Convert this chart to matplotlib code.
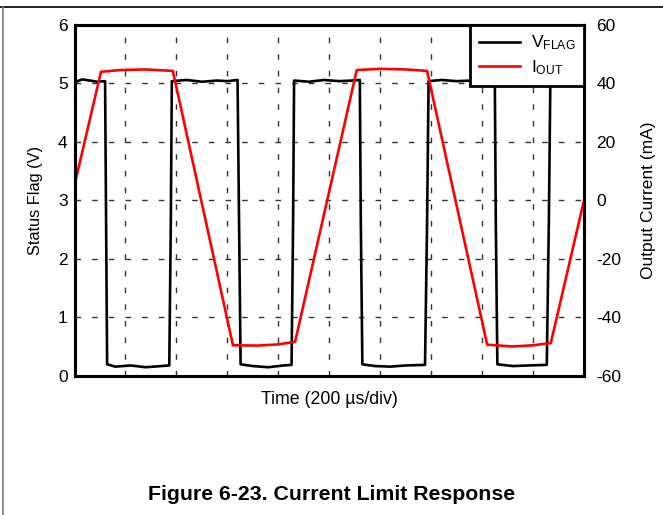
import matplotlib
matplotlib.use("Agg")
import matplotlib.pyplot as plt
from matplotlib.lines import Line2D

plt.rcParams['font.family'] = ['Liberation Sans', 'DejaVu Sans']
plt.rcParams['mathtext.default'] = 'regular'
plt.rcParams['axes.unicode_minus'] = False

# time in divisions (200 us/div)
vflag_t = [0, 0.15, 0.3, 0.45, 0.6, 0.62, 0.64, 0.8, 1.1, 1.4, 1.7, 1.86, 1.89, 1.91,
           2.2, 2.5, 2.8, 3.0, 3.2, 3.23, 3.26, 3.5, 3.8, 4.1, 4.26, 4.29, 4.31,
           4.6, 4.9, 5.2, 5.45, 5.6, 5.62, 5.65, 5.9, 6.2, 6.5, 6.88, 6.92, 6.95,
           7.2, 7.5, 7.8, 8.1, 8.25, 8.27, 8.3, 8.6, 8.9, 9.27, 9.31, 9.34, 9.7, 10]
vflag = [5.02, 5.07, 5.05, 5.03, 5.04, 2.6, 0.2, 0.16, 0.18, 0.15, 0.17, 0.18, 2.6, 5.04,
         5.06, 5.03, 5.05, 5.04, 5.06, 2.6, 0.2, 0.17, 0.15, 0.18, 0.19, 2.6, 5.05,
         5.03, 5.06, 5.04, 5.05, 5.06, 2.6, 0.2, 0.17, 0.16, 0.18, 0.19, 2.6, 5.04,
         5.06, 5.04, 5.05, 5.03, 5.05, 2.6, 0.2, 0.17, 0.18, 0.19, 2.6, 5.04, 5.05, 5.04]

iout_t = [0, 0.52, 0.9, 1.4, 1.93, 3.11, 3.6, 4.0, 4.33, 5.54, 6.0, 6.5, 6.92, 8.10, 8.6, 9.0, 9.35, 10]
iout = [5.3, 44, 44.6, 44.8, 44.3, -49.5, -49.6, -49.2, -48.3, 44.6, 45, 44.8, 44.3, -49.3, -49.9, -49.5, -48.7, 0]

vticks = [0, 1, 2, 3, 4, 5, 6]
iticks = [-60, -40, -20, 0, 20, 40, 60]

fig = plt.figure(figsize=(6.63, 5.15), dpi=100)
ax = fig.add_axes([0.1124, 0.2699, 0.7684, 0.6816])
ax2 = ax.twinx()

ax.plot(vflag_t, vflag, color='black', lw=1.9, label='V$_{FLAG}$')
ax2.plot(iout_t, iout, color='#ff0000', lw=1.9, label='I$_{OUT}$')

ax.set_xlim(0, 10)
ax.set_ylim(0, 6)
ax2.set_ylim(-60, 60)
ax.set_xticks(range(1, 10))
ax.set_xticklabels([])
ax.set_yticks(vticks)
ax2.set_yticks(iticks)

ax.grid(True, color='#333333', lw=1.0, linestyle=(0, (4, 8)))
ax.tick_params(axis='both', length=0, labelsize=12.5, pad=5)
ax2.tick_params(axis='y', length=0, labelsize=12.5, pad=9)
for a in (ax, ax2):
    for s in a.spines.values():
        s.set_linewidth(2.2)

ax.set_ylabel('Status Flag (V)', fontsize=11.8, labelpad=11)
ax2.set_ylabel('Output Current (mA)', fontsize=12.5, labelpad=14)
ax.set_xlabel('Time (200 \u00b5s/div)', fontsize=12.8, labelpad=6)

h1, l1 = ax.get_legend_handles_labels()
h2, l2 = ax2.get_legend_handles_labels()
leg = ax2.legend(h1 + h2, l1 + l2, loc='upper right', borderaxespad=0, fancybox=False,
                 framealpha=1, edgecolor='black', fontsize=12.5, handlelength=2.4,
                 handletextpad=0.6, labelspacing=0.35, borderpad=0.5)
leg.get_frame().set_linewidth(2.0)

# page frame lines
fig.add_artist(Line2D([0, 1], [0.986, 0.986], color='black', lw=1.2))
fig.add_artist(Line2D([0.005, 0.005], [0, 0.986], color='#777777', lw=1.2))

fig.text(0.5, 0.04, 'Figure 6-23. Current Limit Response', ha='center', va='center',
         fontsize=15.3, fontweight='bold')

fig.savefig('out.png', dpi=100)
